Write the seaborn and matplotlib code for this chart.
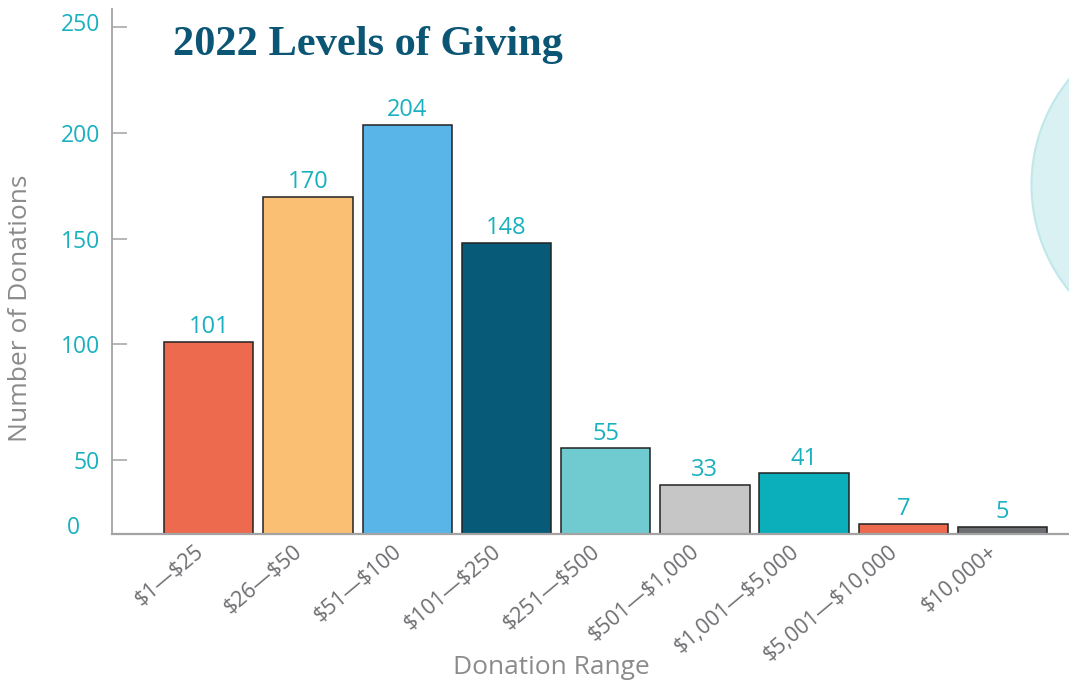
import numpy as np
import pandas as pd
import seaborn as sns
import matplotlib
matplotlib.use('Agg')
import matplotlib.pyplot as plt
from matplotlib.patches import Circle
from matplotlib.transforms import ScaledTranslation

# data
ranges = ['$1—$25', '$26—$50', '$51—$100', '$101—$250', '$251—$500',
          '$501—$1,000', '$1,001—$5,000', '$5,001—$10,000', '$10,000+']
donations = [101, 170, 204, 148, 55, 33, 41, 7, 5]
bar_colors = ['#ed6a4f', '#fbbf73', '#59b5e8', '#075b78', '#6fcbcf',
              '#c7c6c7', '#0bafbc', '#ed6a4f', '#6d6e71']
y_ticks = [0, 50, 100, 150, 200, 250]

# the original axis is not evenly spaced; pixel heights of each tick above the baseline
tick_px = [0, 74, 190, 295, 401, 507]
scale_vals = y_ticks + [300]
scale_px = tick_px + [613]

teal = '#19b0bf'
gray_txt = '#8b8b8d'
axis_gray = '#a3a3a3'


def fwd(v):
    return np.interp(v, scale_vals, scale_px)


def inv(p):
    return np.interp(p, scale_px, scale_vals)


df = pd.DataFrame({'range': ranges, 'count': donations})

sns.set_style('white')
plt.rcParams['font.family'] = ['Open Sans', 'DejaVu Sans']
plt.rcParams['text.parse_math'] = False  # dollar signs are literal here

fig = plt.figure(figsize=(10.69, 6.87), dpi=100)
ax = fig.add_axes([112 / 1069, (687 - 534) / 687, 957 / 1069, 525 / 687])

sns.barplot(data=df, x='range', y='count', hue='range', palette=bar_colors,
            legend=False, width=0.9, saturation=1, edgecolor='#222222',
            linewidth=1.1, ax=ax)

ax.set_yscale('function', functions=(fwd, inv))
ax.set_ylim(0, inv(525))
ax.set_xlim(-0.975, 8.67)

# value labels above the bars
for i, v in enumerate(donations):
    ax.annotate(str(v), (i, v), xytext=(0, 2), textcoords='offset points',
                ha='center', va='bottom', color=teal, fontsize=17)

ax.set_yticks(y_ticks)
ax.set_yticklabels([str(t) for t in y_ticks])
ax.tick_params(axis='y', direction='in', length=11, width=1.1, color=axis_gray,
               labelcolor=teal, labelsize=16.5, pad=8.6, left=True)
ax.tick_params(axis='x', length=0, labelcolor='#6d6e71', labelsize=15.5, pad=11)
for lbl in ax.get_xticklabels():
    lbl.set_rotation(40)
    lbl.set_ha('right')
    lbl.set_va('center')
    lbl.set_rotation_mode('anchor')
    lbl.set_transform(lbl.get_transform() + ScaledTranslation(-0.08, 0, fig.dpi_scale_trans))

# the "0" sits a bit left and up in the original, the top labels ride a little high
ylbls = ax.get_yticklabels()
ylbls[0].set_transform(ylbls[0].get_transform() + ScaledTranslation(-0.2, 0.09, fig.dpi_scale_trans))
ylbls[-1].set_transform(ylbls[-1].get_transform() + ScaledTranslation(0, 0.05, fig.dpi_scale_trans))

for side in ['top', 'right']:
    ax.spines[side].set_visible(False)
ax.spines['left'].set_color(axis_gray)
ax.spines['left'].set_linewidth(1.3)
ax.spines['bottom'].set_color(axis_gray)
ax.spines['bottom'].set_linewidth(1.6)

ax.set_ylabel('Number of Donations', color=gray_txt, fontsize=19)
ax.yaxis.set_label_coords(-0.083, 0.43)
ax.set_xlabel('Donation Range', color=gray_txt, fontsize=19)
ax.xaxis.set_label_coords(0.459, -0.23)

fig.text(173 / 1069, 1 - 55 / 687, '2022 Levels of Giving', color='#0b5674',
         fontsize=30.5, fontweight='bold', family='Liberation Serif',
         ha='left', va='baseline')

# decorative circle cut off at the right edge
circ = Circle((11.99, (687 - 185) / 100), 1.675, transform=fig.dpi_scale_trans,
              facecolor='#d9f1f2', edgecolor='#c0e7ea', linewidth=1.5, zorder=1)
fig.add_artist(circ)

plt.savefig('out.png', dpi=100)
plt.close(fig)
